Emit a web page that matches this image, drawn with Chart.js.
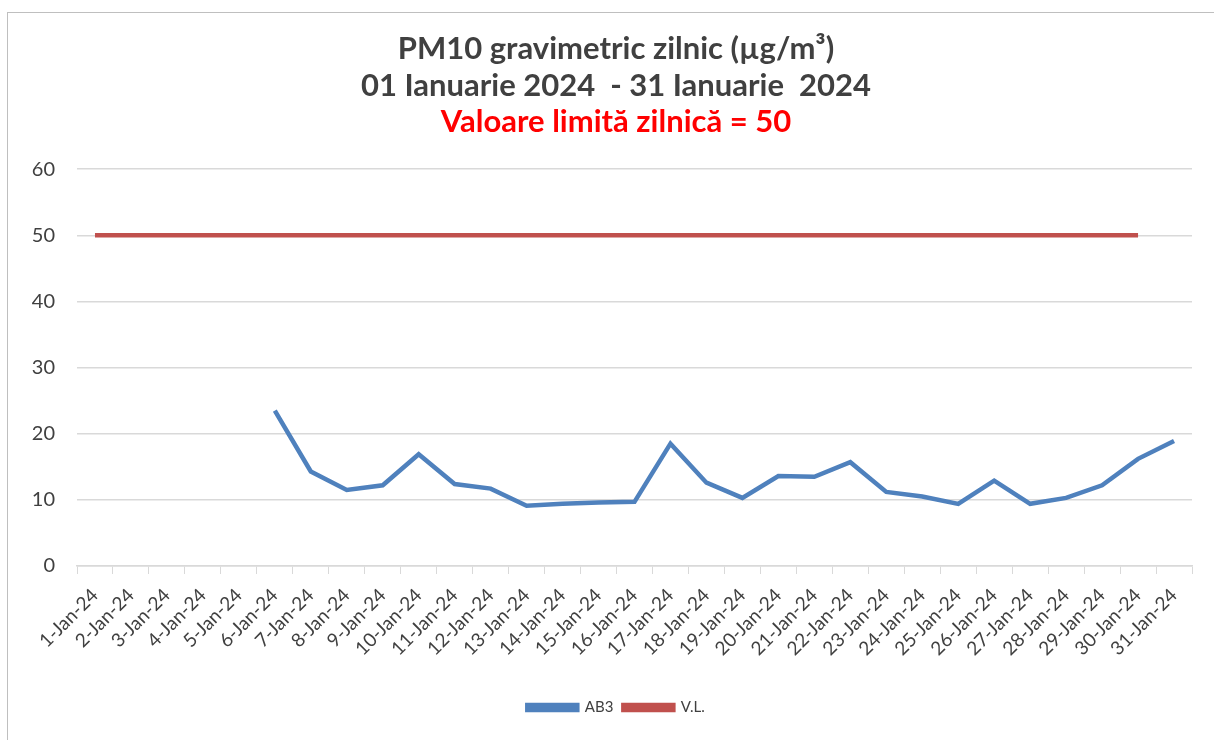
<!DOCTYPE html>
<html>
<head>
<meta charset="utf-8">
<script src="https://cdn.jsdelivr.net/npm/chart.js@4"></script>
<style>
    body { margin: 0; background: #fff; overflow: hidden; }
    #wrap { position: absolute; left: 7px; top: 12px; width: 1230px; height: 740px; border: 1px solid #bfbfbf; box-sizing: border-box; }
</style>
</head>
<body>
<div id="wrap"><canvas id="pmChart"></canvas></div>
<script>
// daily values, January 2024
var days = ['1-Jan-24', '2-Jan-24', '3-Jan-24', '4-Jan-24', '5-Jan-24', '6-Jan-24', '7-Jan-24', '8-Jan-24',
    '9-Jan-24', '10-Jan-24', '11-Jan-24', '12-Jan-24', '13-Jan-24', '14-Jan-24', '15-Jan-24', '16-Jan-24',
    '17-Jan-24', '18-Jan-24', '19-Jan-24', '20-Jan-24', '21-Jan-24', '22-Jan-24', '23-Jan-24', '24-Jan-24',
    '25-Jan-24', '26-Jan-24', '27-Jan-24', '28-Jan-24', '29-Jan-24', '30-Jan-24', '31-Jan-24'];
var ab3 = [null, null, null, null, null, 23.5, 14.3, 11.5, 12.2, 16.9, 12.4, 11.7, 9.1, 9.4, 9.6, 9.7,
    18.5, 12.6, 10.3, 13.6, 13.5, 15.7, 11.2, 10.5, 9.4, 12.9, 9.4, 10.3, 12.2, 16.2, 18.9];
var limit = [50, 50, 50, 50, 50, 50, 50, 50, 50, 50, 50, 50, 50, 50, 50, 50,
    50, 50, 50, 50, 50, 50, 50, 50, 50, 50, 50, 50, 50, 50, null];

var txt = '#404040';

document.addEventListener('DOMContentLoaded', function () {
    var ctx = document.getElementById('pmChart').getContext('2d');
    new Chart(ctx, {
        type: 'line',
        data: {
            labels: days,
            datasets: [{
                label: 'AB3',
                data: ab3,
                borderColor: '#4f81bd',
                backgroundColor: '#4f81bd',
                borderWidth: 4.5,
                pointRadius: 0,
                tension: 0
            }, {
                label: 'V.L.',
                data: limit,
                borderColor: '#c0504d',
                backgroundColor: '#c0504d',
                borderWidth: 4.5,
                pointRadius: 0,
                tension: 0
            }]
        },
        options: {
            responsive: true,
            maintainAspectRatio: false,
            animation: false,
            layout: { padding: { left: 0, right: 12, top: 0, bottom: 26 } },
            plugins: {
                title: {
                    display: true,
                    text: ['PM10 gravimetric zilnic (µg/m³)', '01 Ianuarie 2024  - 31 Ianuarie  2024'],
                    color: txt,
                    font: { family: 'Lato', size: 31, weight: 'bold', lineHeight: 1.174 },
                    padding: { top: 18, bottom: 0 }
                },
                subtitle: {
                    display: true,
                    text: 'Valoare limită zilnică = 50',
                    color: '#ff0000',
                    font: { family: 'Lato', size: 31, weight: 'bold', lineHeight: 1.174 },
                    padding: { top: 0, bottom: 29 }
                },
                legend: {
                    position: 'bottom',
                    labels: {
                        color: txt,
                        font: { family: 'Lato', size: 15 },
                        boxWidth: 50,
                        boxHeight: 5,
                        padding: 10
                    }
                },
                tooltip: { enabled: false }
            },
            scales: {
                x: {
                    offset: true,
                    grid: { drawOnChartArea: false, drawTicks: true, tickLength: 8, color: '#d9d9d9', offset: true },
                    border: { color: '#d9d9d9', width: 1.5 },
                    ticks: {
                        color: txt,
                        font: { family: 'Lato', size: 19 },
                        minRotation: 45,
                        maxRotation: 45,
                        autoSkip: false,
                        padding: 10
                    },
                    afterFit: function (scale) { scale.height = 124; }
                },
                y: {
                    min: 0,
                    max: 60,
                    ticks: { stepSize: 10, color: txt, font: { family: 'Lato', size: 20 }, padding: 22 },
                    grid: { color: '#d9d9d9', lineWidth: 1.5, drawTicks: false },
                    border: { display: false },
                    afterFit: function (scale) { scale.width = 69; }
                },
                // empty spacer on the right so the title sits where the original has it
                spacer: {
                    type: 'linear',
                    position: 'right',
                    ticks: { display: false },
                    grid: { display: false },
                    border: { display: false },
                    afterFit: function (scale) { scale.width = 32; }
                }
            }
        }
    });
});
</script>
</body>
</html>
